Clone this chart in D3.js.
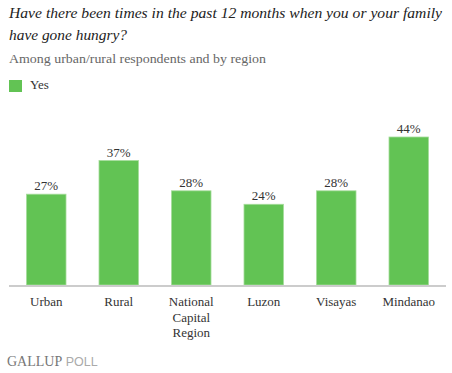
<html>
<head>
<meta charset="utf-8">
<style>
  body { margin: 0; background: #fff; }
  text { font-family: "Liberation Serif", "DejaVu Serif", serif; }
</style>
</head>
<body>
<script src="https://cdn.jsdelivr.net/npm/d3@7/dist/d3.min.js"></script>
<script>
  var width = 452;
  var height = 373;

  var categories = ["Urban", "Rural", "National Capital Region", "Luzon", "Visayas", "Mindanao"];
  var labelLines = [["Urban"], ["Rural"], ["National", "Capital", "Region"], ["Luzon"], ["Visayas"], ["Mindanao"]];
  var yesValues = [27, 37, 28, 24, 28, 44];
  var seriesName = "Yes";

  var svg = d3.select("body").append("svg")
    .attr("width", width)
    .attr("height", height);

  // title, two lines, stretched to the width of the original
  var title = svg.append("text")
    .attr("fill", "#222")
    .style("font-style", "italic")
    .style("font-size", "15px");
  title.append("tspan").attr("x", 9).attr("y", 18)
    .attr("textLength", 433).attr("lengthAdjust", "spacingAndGlyphs")
    .text("Have there been times in the past 12 months when you or your family");
  title.append("tspan").attr("x", 9).attr("y", 40)
    .attr("textLength", 118).attr("lengthAdjust", "spacingAndGlyphs")
    .text("have gone hungry?");

  svg.append("text")
    .attr("x", 9).attr("y", 63)
    .attr("fill", "#666")
    .style("font-size", "13px")
    .attr("textLength", 257).attr("lengthAdjust", "spacingAndGlyphs")
    .text("Among urban/rural respondents and by region");

  // legend
  svg.append("rect")
    .attr("x", 9).attr("y", 80)
    .attr("width", 13).attr("height", 12)
    .attr("fill", "#62c354");
  svg.append("text")
    .attr("x", 30).attr("y", 89)
    .attr("fill", "#333")
    .style("font-size", "13px")
    .text(seriesName);

  var x = d3.scaleBand()
    .domain(categories)
    .range([10, 445])
    .paddingInner(0.455)
    .paddingOuter(0.2275);

  var y = d3.scaleLinear()
    .domain([0, 44])
    .range([285, 137]);

  svg.selectAll(".bar")
    .data(yesValues)
    .enter()
    .append("rect")
    .attr("class", "bar")
    .attr("x", function(d, i){ return x(categories[i]); })
    .attr("y", function(d){ return y(d); })
    .attr("width", x.bandwidth())
    .attr("height", function(d){ return y(0) - y(d); })
    .attr("fill", "#62c354")
    .attr("stroke", "#a6dc9c")
    .attr("stroke-width", 0.8);

  svg.selectAll(".val")
    .data(yesValues)
    .enter()
    .append("text")
    .attr("class", "val")
    .attr("x", function(d, i){ return x(categories[i]) + x.bandwidth() / 2; })
    .attr("y", function(d){ return y(d) - 4; })
    .attr("text-anchor", "middle")
    .attr("fill", "#333")
    .style("font-size", "13px")
    .text(function(d){ return d + "%"; });

  // baseline
  svg.append("line")
    .attr("x1", 9).attr("x2", 446)
    .attr("y1", y(0) + 1).attr("y2", y(0) + 1)
    .attr("stroke", "#cccccc")
    .attr("stroke-width", 2);

  // category labels
  var labels = svg.selectAll(".cat")
    .data(categories)
    .enter()
    .append("text")
    .attr("class", "cat")
    .attr("text-anchor", "middle")
    .attr("fill", "#333")
    .style("font-size", "13px");
  labels.selectAll("tspan")
    .data(function(d, i){ return labelLines[i].map(function(s){ return {c: d, s: s}; }); })
    .enter()
    .append("tspan")
    .attr("x", function(d){ return x(d.c) + x.bandwidth() / 2; })
    .attr("y", function(d, j){ return 306 + j * 15.5; })
    .text(function(d){ return d.s; });

  // footer
  var foot = svg.append("text")
    .attr("x", 7).attr("y", 366)
    .attr("fill", "#777")
    .style("font-size", "14px");
  foot.append("tspan").text("GALLUP");
  foot.append("tspan")
    .style("font-family", "'Liberation Sans', sans-serif")
    .style("font-size", "12.5px")
    .attr("fill", "#aaa")
    .text(" POLL");
</script>
</body>
</html>
